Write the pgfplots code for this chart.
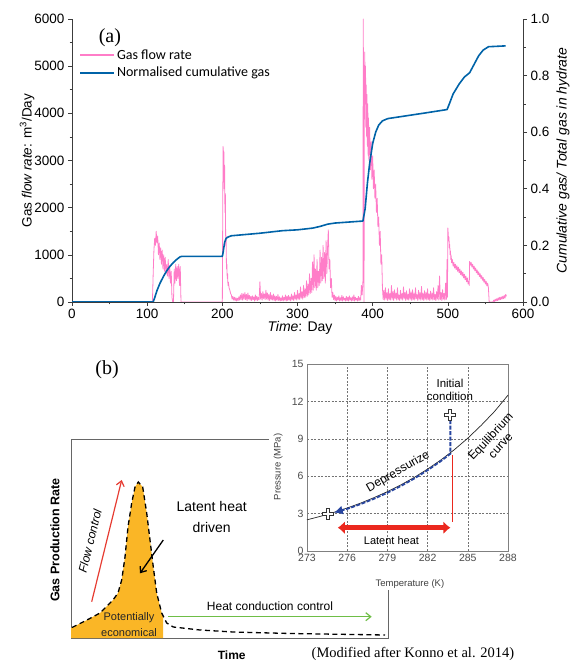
\documentclass[border=0pt]{standalone}
\usepackage{fontspec}
\setmainfont{Liberation Sans}
\newfontfamily\carlito{Carlito}
\newfontfamily\serifrm{Liberation Serif}
\usepackage{pgfplots}
\pgfplotsset{compat=1.18}
\usetikzlibrary{arrows.meta}
\definecolor{pinkc}{RGB}{255,125,200}
\definecolor{bluec}{RGB}{0,99,168}
\definecolor{axgray}{RGB}{60,60,60}
\definecolor{orangec}{RGB}{250,182,38}
\definecolor{arrowred}{RGB}{230,60,50}
\definecolor{greenc}{RGB}{110,190,70}
\definecolor{dblue}{RGB}{40,70,160}
\definecolor{latred}{RGB}{235,40,30}
\begin{document}
\begin{tikzpicture}[x=1pt,y=1pt]
\path[use as bounding box] (0,0) rectangle (571,663);
% ---------------- Panel (a), left axis ----------------
\begin{axis}[
 at={(72pt,361pt)}, anchor=south west, scale only axis, width=451pt, height=283pt,
 xmin=0, xmax=600, ymin=0, ymax=6000,
 axis x line*=bottom, axis y line*=left,
 xtick={0,100,200,300,400,500,600}, ytick={0,1000,2000,3000,4000,5000,6000},
 minor x tick num=1, minor y tick num=1,
 tick align=outside, major tick length=4pt, minor tick length=2.5pt,
 tick style={axgray, line width=0.6pt},
 axis line style={axgray, line width=0.8pt, -},
 /pgf/number format/assume math mode=true, /pgf/number format/1000 sep={},
 ticklabel style={font=\fontsize{13.5}{15}\selectfont},
 xlabel={\textit{Time}: Day},
 every axis x label/.style={at={(axis description cs:0.5055,-0.092)}, anchor=center, font=\fontsize{14}{16}\selectfont},
 ylabel={Gas \textit{flow rate}: m\textsuperscript{3}/Day},
 every axis y label/.style={at={(axis description cs:-0.0998,0.5)}, rotate=90, anchor=center, font=\fontsize{13.5}{15}\selectfont},
]
\addplot[pinkc, line width=0.8pt, line join=round] coordinates {
(0,0) (107,0) (108,600) (109,1100) (110,1350) (111,1200) (112,1500) (113,1250) (114,1400) (115,1000)
(116,1250) (117,900) (118,1150) (119,800) (120,1100) (121,700) (122,1000) (123,650) (124,950) (125,600)
(126,800) (127,550) (128,900) (129,500) (130,750) (131,400) (132,650) (133,100) (134,0) (135,0)
(136,700) (137,400) (138,800) (139,450) (140,750) (141,500) (142,800) (143,350) (144,750) (145,0)
(199.5,0) (200,0) (200.5,1800) (201,3300) (201.5,2600) (202,3200) (202.5,2400) (203,2900) (203.5,1900) (204,2300)
(204.5,1200) (205,1400) (205.5,700) (206,800) (206.5,500) (207,600) (207.5,350) (208,420) (209,300) (210,250) (211,180)
(212,150) (213,60) (214,120) (215,40) (216,100) (217,30) (218,90) (219,20) (220,80) (221,30)
(222,110) (223,40) (224,150) (225,50) (226,180) (227,40) (228,170) (229,60) (230,200) (231,50)
(232,160) (233,30) (234,190) (235,60) (236,140) (237,40) (238,120) (239,30) (240,130) (241,50)
(242,110) (243,20) (244,150) (245,40) (246,120) (247,30) (248,100) (249,50) (250,430) (251,60)
(252,180) (253,40) (254,220) (255,70) (256,170) (257,50) (258,250) (259,60) (260,190) (261,40)
(262,160) (263,30) (264,200) (265,50) (266,140) (267,40) (268,170) (269,30) (270,130) (271,20)
(272,120) (273,40) (274,160) (275,30) (276,110) (277,20) (278,90) (279,30) (280,130) (281,20)
(282,100) (283,40) (284,150) (285,20) (286,120) (287,30) (288,140) (289,40) (290,110) (291,20)
(292,170) (293,50) (294,130) (295,30) (296,200) (297,60) (298,150) (299,40) (300,250) (301,60)
(302,180) (303,50) (304,320) (305,80) (306,220) (307,60) (308,350) (309,90) (310,280) (311,100)
(312,450) (313,120) (314,380) (315,150) (316,600) (317,180) (318,500) (319,200) (320,850) (321,250)
(322,1000) (323,300) (324,700) (325,250) (326,900) (327,300) (328,650) (329,350) (330,1100) (331,400)
(332,950) (333,450) (334,1200) (335,500) (336,1050) (337,400) (338,1300) (339,600) (340,1150) (341,1530)
(342,700) (343,900) (344,300) (345,500) (346,100) (347,200) (348,50) (349,150) (350,30) (351,120)
(352,20) (353,100) (354,40) (355,130) (356,20) (357,90) (358,30) (359,140) (360,20) (361,110)
(362,40) (363,80) (364,20) (365,120) (366,30) (367,100) (368,20) (369,130) (370,40) (371,90)
(372,20) (373,110) (374,30) (375,150) (376,20) (377,100) (378,40) (379,80) (380,20) (381,120)
(382,30) (383,90) (384,40) (385,350) (386,150) (387,420) (387.5,6000) (388,3000) (388.5,0) (389,4500)
(389.5,5300) (390,4200) (390.5,5000) (391,3700) (391.5,4600) (392,3500) (392.5,4400) (393,3300) (393.5,4200) (394,3100)
(394.5,3900) (395,3000) (396,3700) (397,2800) (398,3400) (399,2600) (400,3100) (401,2400) (402,2800) (403,2200)
(404,2500) (405,1900) (406,2200) (407,1600) (408,1800) (409,1200) (410,1500) (411,800) (412,1000) (413,300) (414,50)
(415,250) (416,40) (417,300) (418,60) (419,200) (420,30) (421,280) (422,50) (423,180) (424,40)
(425,350) (426,60) (427,220) (428,30) (429,260) (430,70) (431,190) (432,40) (433,300) (434,50)
(435,150) (436,30) (437,250) (438,60) (439,180) (440,40) (441,320) (442,70) (443,200) (444,30)
(445,240) (446,50) (447,170) (448,40) (449,280) (450,60) (451,210) (452,30) (453,260) (454,50)
(455,190) (456,40) (457,300) (458,70) (459,160) (460,30) (461,250) (462,60) (463,200) (464,40)
(465,330) (466,50) (467,180) (468,30) (469,240) (470,60) (471,200) (472,40) (473,280) (474,50)
(475,170) (476,30) (477,230) (478,60) (479,190) (480,40) (481,300) (482,50) (483,160) (484,30)
(485,220) (486,60) (487,350) (488,40) (489,550) (490,50) (491,200) (492,30) (493,260) (494,60)
(495,180) (496,40) (497,400) (498,50) (499,900) (499.5,100) (500,1570) (500.5,1450) (501,1300) (501.5,1380)
(502,1150) (502.5,1220) (503,1000) (503.5,1080) (504,900) (504.5,980) (505,830) (506,900) (507,760) (508,840)
(509,720) (510,800) (511,690) (512,770) (513,650) (514,740) (515,620) (516,700) (517,580) (518,660)
(519,550) (520,630) (521,510) (522,590) (523,470) (524,550) (525,430) (526,510) (527,380) (528,440)
(528.5,350) (529,860) (530,780) (531,840) (532,740) (533,800) (534,700) (535,760) (536,660) (537,720)
(538,620) (539,680) (540,580) (541,640) (542,540) (543,600) (544,500) (545,560) (546,460) (547,520)
(548,420) (549,480) (550,380) (551,440) (552,340) (553,400) (554,300) (555,0) (560,0) (561,40)
(562,10) (563,60) (564,20) (565,70) (566,30) (567,90) (568,40) (569,100) (570,50) (571,110)
(572,60) (573,120) (574,70) (575,140) (576,80) (577,160) (578,120)
};
\node[font=\serifrm\fontsize{20}{22}\selectfont] at (axis description cs:0.084,0.933) {(a)};
\end{axis}
% ---------------- Panel (a), right axis ----------------
\begin{axis}[
 at={(72pt,361pt)}, anchor=south west, scale only axis, width=451pt, height=283pt,
 xmin=0, xmax=600, ymin=0, ymax=1,
 axis x line=none, axis y line*=right,
 ytick={0,0.2,0.4,0.6,0.8,1}, minor y tick num=1,
 tick align=outside, major tick length=4pt, minor tick length=2.5pt,
 tick style={axgray, line width=0.6pt},
 axis line style={axgray, line width=0.8pt, -},
 /pgf/number format/assume math mode=true,
 yticklabel style={font=\fontsize{13.5}{15}\selectfont, /pgf/number format/fixed, /pgf/number format/fixed zerofill, /pgf/number format/precision=1},
 ylabel={\textit{Cumulative gas/ Total gas in hydrate}},
 every axis y label/.style={at={(axis description cs:1.0887,0.5)}, rotate=90, anchor=center, font=\fontsize{14}{16}\selectfont},
 legend style={at={(axis description cs:0.016,0.9)}, anchor=north west, draw=none, fill=none,
   font=\carlito\fontsize{14}{16}\selectfont, row sep=2.5pt, inner sep=0pt, cells={anchor=west}},
 legend image code/.code={\draw[#1] (0pt,0pt) -- (34pt,0pt);},
]
\addlegendimage{pinkc, line width=1.2pt}
\addlegendentry{Gas flow rate}
\addplot[bluec, line width=1.6pt, line join=round] coordinates {
(0,0) (108,0) (110,0.015) (113,0.04) (117,0.066) (122,0.092) (126,0.11) (130,0.125) (135,0.14) (140,0.152)
(144,0.16) (146,0.161) (200,0.161) (201,0.175) (203,0.21) (205,0.225) (208,0.23) (212,0.234) (250,0.243) (280,0.252)
(300,0.255) (320,0.261) (330,0.267) (340,0.275) (350,0.279) (387,0.286) (390,0.33) (393,0.42) (396,0.49) (400,0.56)
(404,0.6) (408,0.625) (413,0.64) (420,0.648) (440,0.656) (470,0.668) (499,0.68) (502,0.7) (507,0.735) (515,0.77)
(522,0.795) (529,0.81) (535,0.84) (541,0.87) (547,0.89) (554,0.902) (577,0.905)
};
\addlegendentry{Normalised cumulative gas}
\end{axis}
% ---------------- Panel (b), schematic ----------------
\begin{axis}[
 at={(71pt,25pt)}, anchor=south west, scale only axis, width=317pt, height=198pt,
 xmin=0, xmax=317, ymin=0, ymax=198, xtick=\empty, ytick=\empty,
 axis line style={black!60, line width=1pt}, clip=false,
]
\addplot[fill=orangec, draw=none] coordinates {
(0,0) (0,10) (2,11) (16,18) (29,25) (42,38) (47,45) (50.7,58) (54,81) (57,111) (60.7,135) (64,151)
(67.3,156) (71.7,151) (75.7,125) (79,98) (82.3,71) (85.7,45) (90.7,25) (92,21) (92,0)
} --cycle;
\addplot[black, line width=1.3pt, dash pattern=on 5pt off 3.5pt] coordinates {
(1,10.5) (16,18) (29,25) (42,38) (47,45) (50.7,58) (54,81) (57,111) (60.7,135) (64,151) (67.3,156)
(71.7,151) (75.7,125) (79,98) (82.3,71) (85.7,45) (90.7,25) (95.7,15) (102.3,11) (129,8) (162,6) (219,4.5) (314,3)
};
\draw[arrowred, line width=1.2pt, -{Straight Barb[length=5pt,width=8pt]}] (axis cs:20.7,36.3) -- (axis cs:50.7,158);
\draw[black, line width=1.3pt, -{Straight Barb[length=5pt,width=8pt]}] (axis cs:92.3,98) -- (axis cs:69,64.7);
\draw[greenc, line width=1.2pt, -{Straight Barb[length=5pt,width=8pt]}] (axis cs:97.3,21.3) -- (axis cs:300.7,21.3);
\node[font=\itshape\fontsize{12}{14}\selectfont, rotate=76] at (axis cs:19,97) {Flow control};
\node[font=\fontsize{14}{21}\selectfont, align=center] at (axis cs:140.7,121) {Latent heat\\driven};
\node[font=\fontsize{11}{16}\selectfont, align=center, text=black!85] at (axis cs:58,13.3) {Potentially\\economical};
\node[font=\fontsize{12}{14}\selectfont] at (axis cs:199,32) {Heat conduction control};
\node[font=\bfseries\fontsize{12.5}{14}\selectfont, rotate=90] at (axis cs:-16,98) {Gas Production Rate};
\node[font=\bfseries\fontsize{12}{14}\selectfont] at (axis cs:160.7,-17) {Time};
\node[font=\serifrm\fontsize{14.5}{16}\selectfont] at (axis cs:342,-16) {(Modified after Konno et al. 2014)};
\node[font=\serifrm\fontsize{20}{22}\selectfont] at (axis cs:36,268) {(b)};
\end{axis}
\fill[white] (269,73) rectangle (571,323);
% ---------------- Panel (b), inset ----------------
\begin{axis}[
 at={(307pt,112pt)}, anchor=south west, scale only axis, width=201pt, height=187pt,
 xmin=273, xmax=288, ymin=0, ymax=15,
 xtick={273,276,279,282,285,288}, ytick={0,3,6,9,12,15},
 major tick length=0pt,
 grid=major, grid style={black!55, line width=0.5pt, dash pattern=on 2pt off 1.5pt},
 axis line style={black!50, line width=0.9pt},
 /pgf/number format/assume math mode=true,
 ticklabel style={font=\fontsize{10.5}{12}\selectfont, text=black!70},
 xlabel={Temperature (K)}, ylabel={Pressure (MPa)},
 every axis x label/.style={at={(axis description cs:0.512,-0.176)}, anchor=center, font=\fontsize{9.5}{11}\selectfont, text=black!75},
 every axis y label/.style={at={(axis description cs:-0.144,0.449)}, rotate=90, anchor=center, font=\fontsize{9.5}{11}\selectfont, text=black!75},
 clip=false,
]
\addplot[black!85, line width=0.7pt] coordinates {
(273,2.5) (274,2.78) (275,3.1) (276,3.45) (277,3.84) (278,4.28) (279,4.76) (280,5.3)
(281,5.9) (282,6.57) (283,7.31) (284,8.13) (285,9.05) (286,10.08) (287,11.2) (288,12.5)
};
\draw[latred, line width=0.5pt] (axis cs:283.85,7.7) -- (axis cs:283.85,2.3);
\addplot[dblue, line width=1.8pt, dash pattern=on 4pt off 1.5pt, -{Latex[length=9pt,width=9pt]}] coordinates {
(283.7,10.5) (283.7,7.8) (283,7.22) (282,6.48) (281,5.81) (280,5.21) (279,4.67) (278,4.19) (277,3.76) (276,3.38) (275.0,3.08)
};
\draw[latred, line width=4.5pt, {Latex[length=7pt,width=13pt]}-{Latex[length=7pt,width=13pt]}] (axis cs:275.3,1.87) -- (axis cs:283.7,1.87);
\addplot[only marks, mark=+, mark size=6pt, mark options={black!80, line width=4pt}] coordinates {(283.7,10.9) (274.55,2.97)};
\addplot[only marks, mark=+, mark size=5pt, mark options={white, line width=2.2pt}] coordinates {(283.7,10.9) (274.55,2.97)};
\node[font=\fontsize{11.5}{13.2}\selectfont, align=center] at (axis cs:283.67,12.93) {Initial\\condition};
\node[font=\fontsize{12}{14}\selectfont, rotate=30] at (axis cs:279.8,6.36) {Depressurize};
\node[font=\fontsize{12}{13.5}\selectfont, align=center, rotate=47] at (axis cs:287.05,8.83) {Equilibrium\\curve};
\node[font=\fontsize{11}{13}\selectfont] at (axis cs:279.3,0.8) {Latent heat};
\end{axis}
\end{tikzpicture}
\end{document}
